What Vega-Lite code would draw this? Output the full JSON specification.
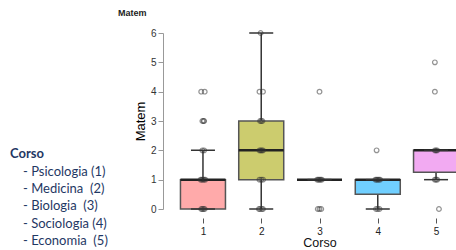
{
  "$schema": "https://vega.github.io/schema/vega-lite/v6.json",
  "autosize": {"type": "none"},
  "padding": {"left": 163, "top": 33, "right": 0, "bottom": 41},
  "width": 313,
  "height": 176,
  "title": {"text": "Matem", "anchor": "start", "frame": "group", "dx": -45, "dy": 0, "fontSize": 9, "fontWeight": "bold", "font": "Liberation Sans", "color": "#222", "offset": 10},
  "config": {"view": {"stroke": null}, "font": "Liberation Sans", "axis": {"labelOverlap": false}, "axisY": {"labelOverlap": false, "tickCount": 7}},
  "datasets": {
    "boxes": [
      {"Corso": 1, "lo": 0, "q1": 0, "med": 1, "q3": 1, "hi": 2},
      {"Corso": 2, "lo": 0, "q1": 1, "med": 2, "q3": 3, "hi": 6},
      {"Corso": 3, "lo": 1, "q1": 1, "med": 1, "q3": 1, "hi": 1},
      {"Corso": 4, "lo": 0, "q1": 0.5, "med": 1, "q3": 1, "hi": 1},
      {"Corso": 5, "lo": 1, "q1": 1.25, "med": 2, "q3": 2, "hi": 2}
    ],
    "points": [
      {"Corso": 1, "x": 0.97, "v": 0}, {"Corso": 1, "x": 0.99, "v": 0}, {"Corso": 1, "x": 1.01, "v": 0}, {"Corso": 1, "x": 1.03, "v": 0},
      {"Corso": 1, "x": 0.96, "v": 1}, {"Corso": 1, "x": 0.98, "v": 1}, {"Corso": 1, "x": 1.0, "v": 1}, {"Corso": 1, "x": 1.02, "v": 1}, {"Corso": 1, "x": 1.04, "v": 1},
      {"Corso": 1, "x": 0.99, "v": 2}, {"Corso": 1, "x": 1.02, "v": 2},
      {"Corso": 1, "x": 0.99, "v": 3}, {"Corso": 1, "x": 1.01, "v": 3}, {"Corso": 1, "x": 1.02, "v": 3},
      {"Corso": 1, "x": 0.97, "v": 4}, {"Corso": 1, "x": 1.03, "v": 4},
      {"Corso": 2, "x": 1.96, "v": 0}, {"Corso": 2, "x": 1.98, "v": 0}, {"Corso": 2, "x": 2.01, "v": 0}, {"Corso": 2, "x": 2.03, "v": 0},
      {"Corso": 2, "x": 1.97, "v": 1}, {"Corso": 2, "x": 2.0, "v": 1}, {"Corso": 2, "x": 2.03, "v": 1},
      {"Corso": 2, "x": 1.97, "v": 2}, {"Corso": 2, "x": 1.99, "v": 2}, {"Corso": 2, "x": 2.01, "v": 2}, {"Corso": 2, "x": 2.03, "v": 2},
      {"Corso": 2, "x": 1.98, "v": 3}, {"Corso": 2, "x": 2.0, "v": 3}, {"Corso": 2, "x": 2.02, "v": 3},
      {"Corso": 2, "x": 1.97, "v": 4}, {"Corso": 2, "x": 2.03, "v": 4},
      {"Corso": 2, "x": 1.99, "v": 6},
      {"Corso": 3, "x": 2.97, "v": 0}, {"Corso": 3, "x": 3.0, "v": 0}, {"Corso": 3, "x": 3.03, "v": 0},
      {"Corso": 3, "x": 2.96, "v": 1}, {"Corso": 3, "x": 2.98, "v": 1}, {"Corso": 3, "x": 3.0, "v": 1}, {"Corso": 3, "x": 3.02, "v": 1}, {"Corso": 3, "x": 3.04, "v": 1},
      {"Corso": 3, "x": 3.0, "v": 4},
      {"Corso": 4, "x": 3.97, "v": 0}, {"Corso": 4, "x": 4.0, "v": 0}, {"Corso": 4, "x": 4.03, "v": 0},
      {"Corso": 4, "x": 3.96, "v": 1}, {"Corso": 4, "x": 3.98, "v": 1}, {"Corso": 4, "x": 4.0, "v": 1}, {"Corso": 4, "x": 4.02, "v": 1}, {"Corso": 4, "x": 4.04, "v": 1},
      {"Corso": 4, "x": 3.98, "v": 2},
      {"Corso": 5, "x": 5.05, "v": 0},
      {"Corso": 5, "x": 4.98, "v": 1}, {"Corso": 5, "x": 5.0, "v": 1}, {"Corso": 5, "x": 5.02, "v": 1},
      {"Corso": 5, "x": 4.98, "v": 2}, {"Corso": 5, "x": 5.0, "v": 2}, {"Corso": 5, "x": 5.02, "v": 2},
      {"Corso": 5, "x": 4.98, "v": 4},
      {"Corso": 5, "x": 4.98, "v": 5}
    ]
  },
  "layer": [
    {
      "data": {"name": "boxes"},
      "mark": {"type": "rule", "color": "#333", "strokeWidth": 1.5},
      "encoding": {
        "x": {"field": "Corso", "type": "quantitative", "title": "Corso",
          "scale": {"domain": [0.4, 5.6], "nice": false, "zero": false},
          "axis": {"values": [1, 2, 3, 4, 5], "title": "Corso", "domain": false, "grid": false, "offset": 9, "tickSize": 5, "tickColor": "#555", "labelFontSize": 10, "labelColor": "#222", "labelPadding": 3, "labelOverlap": false, "titleFontSize": 12.5, "titleFontWeight": "normal", "titlePadding": 0, "titleColor": "#111", "format": "d"}},
        "y": {"field": "lo", "type": "quantitative", "title": "Matem",
          "scale": {"domain": [0, 6], "nice": false, "zero": false},
          "axis": {"values": [0, 1, 2, 3, 4, 5, 6], "tickCount": 7, "title": "Matem", "grid": false, "domainColor": "#999", "tickColor": "#999", "tickSize": 5, "labelFontSize": 10, "labelColor": "#333", "labelPadding": 2, "labelOverlap": false, "labelBound": false, "titleFontSize": 13, "titleFontWeight": "normal", "titlePadding": 3, "titleColor": "#000", "format": "d"}},
        "y2": {"field": "hi"}
      }
    },
    {
      "data": {"name": "boxes"},
      "mark": {"type": "bar", "size": 45, "stroke": "#555", "strokeWidth": 1.5},
      "encoding": {
        "x": {"field": "Corso", "type": "quantitative", "title": "Corso"},
        "y": {"field": "q1", "type": "quantitative", "title": "Matem"},
        "y2": {"field": "q3"},
        "fill": {"field": "Corso", "type": "nominal",
          "scale": {"domain": [1, 2, 3, 4, 5], "range": ["#FFAAAA", "#CCCC6E", "#A8E6A8", "#70CFFF", "#F2AAF2"]},
          "legend": {"title": "Corso", "orient": "none", "legendX": -153, "legendY": 115, "symbolSize": 0, "symbolOpacity": 0, "symbolStrokeWidth": 0, "labelOffset": 0, "padding": 0,
            "labelExpr": "{'1':'\u00a0-\u00a0Psicologia\u00a0(1)','2':'\u00a0-\u00a0Medicina\u00a0\u00a0(2)','3':'\u00a0-\u00a0Biologia\u00a0\u00a0(3)','4':'\u00a0-\u00a0Sociologia\u00a0(4)','5':'\u00a0-\u00a0Economia\u00a0\u00a0(5)'}[datum.label]",
            "labelFont": "Lato", "labelFontSize": 13, "labelColor": "#1F3864", "titleFont": "Lato", "titleFontSize": 13, "titleFontWeight": "bold", "titleColor": "#1F3864", "rowPadding": 3.4, "titlePadding": 4}}
      }
    },
    {
      "data": {"name": "boxes"},
      "mark": {"type": "tick", "orient": "horizontal", "size": 45, "thickness": 2.5, "color": "#222", "opacity": 1},
      "encoding": {
        "x": {"field": "Corso", "type": "quantitative", "title": "Corso"},
        "y": {"field": "med", "type": "quantitative", "title": "Matem"}
      }
    },
    {
      "data": {"name": "boxes"},
      "mark": {"type": "tick", "orient": "horizontal", "size": 24, "thickness": 1.5, "color": "#333", "opacity": 1},
      "encoding": {
        "x": {"field": "Corso", "type": "quantitative", "title": "Corso"},
        "y": {"field": "lo", "type": "quantitative", "title": "Matem"}
      }
    },
    {
      "data": {"name": "boxes"},
      "mark": {"type": "tick", "orient": "horizontal", "size": 24, "thickness": 1.5, "color": "#333", "opacity": 1},
      "encoding": {
        "x": {"field": "Corso", "type": "quantitative", "title": "Corso"},
        "y": {"field": "hi", "type": "quantitative", "title": "Matem"}
      }
    },
    {
      "data": {"name": "points"},
      "mark": {"type": "point", "shape": "circle", "filled": false, "size": 22, "stroke": "#333", "strokeWidth": 1.2, "strokeOpacity": 0.75},
      "encoding": {
        "x": {"field": "x", "type": "quantitative", "title": "Corso"},
        "y": {"field": "v", "type": "quantitative", "title": "Matem"}
      }
    }
  ]
}
